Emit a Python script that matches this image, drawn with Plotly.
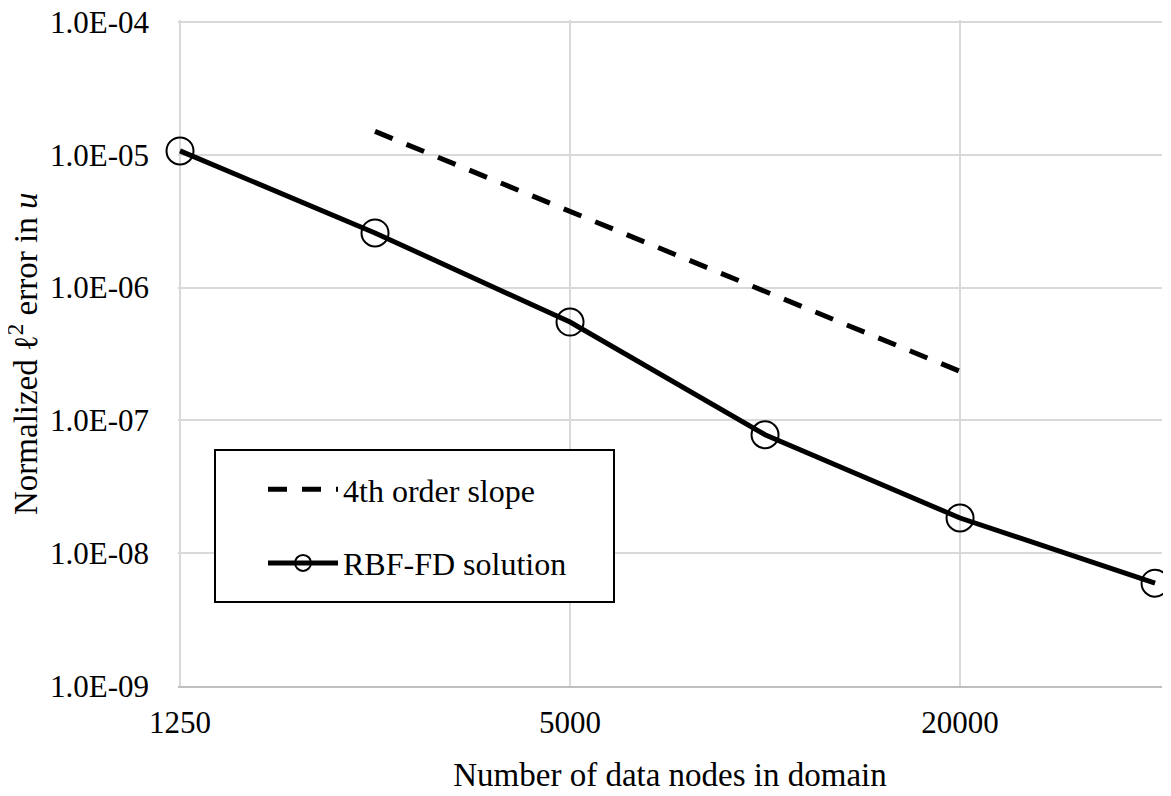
import plotly.graph_objects as go

# ---- data ----
nodes = [1250, 2500, 5000, 10000, 20000, 40000]
rbf_error = [1.07e-5, 2.58e-6, 5.5e-7, 7.8e-8, 1.84e-8, 5.95e-9]

slope_nodes = [2500, 5000, 10000, 20000]
slope_error = [1.5e-5, 3.75e-6, 9.4e-7, 2.34e-7]

x_tickvals = [1250, 5000, 20000]
x_ticktext = ["1250", "5000", "20000"]
y_tickvals = [1e-9, 1e-8, 1e-7, 1e-6, 1e-5, 1e-4]
y_ticktext = ["1.0E-09", "1.0E-08", "1.0E-07", "1.0E-06", "1.0E-05", "1.0E-04"]

FONT = "Liberation Serif, Times New Roman, serif"

# the page body has an 8px margin: work in figure coordinates = page - 8
OFF = 8
FW, FH = 1171 - OFF, 796 - OFF
L, R, T, B = 178 - OFF, 1162 - OFF, 20 - OFF, 686 - OFF
W, H = R - L, B - T


def px(xp):
    return (xp - OFF - L) / W


def py(yp):
    return (B - (yp - OFF)) / H


fig = go.Figure()
fig.add_trace(go.Scatter(
    x=slope_nodes, y=slope_error, mode="lines", name="4th order slope",
    legendgroup="a", cliponaxis=False,
    line=dict(color="black", width=5, dash="19px,15px"),
))
fig.add_trace(go.Scatter(
    x=nodes, y=rbf_error, mode="lines+markers", name="RBF-FD solution",
    legendgroup="b", cliponaxis=False,
    line=dict(color="black", width=5),
    marker=dict(symbol="circle-open", size=27, color="black", line=dict(width=2, color="black")),
))

# legend frame
fig.add_shape(type="rect", xref="paper", yref="paper",
              x0=px(215), x1=px(614), y0=py(602), y1=py(450),
              line=dict(color="black", width=2), fillcolor="white", layer="above")

# y-axis title
fig.add_annotation(text="Normalized ℓ<sup>2</sup> error in <i>u</i>",
                   xref="paper", yref="paper", x=px(23), y=py(354),
                   xanchor="center", yanchor="middle", textangle=-90,
                   showarrow=False, font=dict(family=FONT, size=33, color="black"))

fig.update_layout(
    template="none",
    width=FW, height=FH,
    margin=dict(l=L, r=FW - R, t=T, b=FH - B, autoexpand=False),
    paper_bgcolor="white", plot_bgcolor="white",
    font=dict(family=FONT, size=31, color="black"),
    showlegend=True,
    legend=dict(
        x=px(263), y=py(462),
        xanchor="left", yanchor="top",
        bgcolor="rgba(0,0,0,0)", borderwidth=0,
        font=dict(family=FONT, size=32, color="black"),
        itemwidth=70, tracegroupgap=29,
    ),
    xaxis=dict(
        type="log", automargin=False,
        range=[3.0938, 4.61278],
        tickvals=x_tickvals, ticktext=x_ticktext,
        showgrid=True, gridcolor="#d9d9d9", gridwidth=2,
        showline=True, linecolor="#bfbfbf", linewidth=2,
        ticks="", zeroline=False,
        ticklabelstandoff=8, ticklabeloverflow="allow",
        tickfont=dict(family=FONT, size=31),
        title=dict(text="Number of data nodes in domain", standoff=24,
                   font=dict(family=FONT, size=33)),
    ),
    yaxis=dict(
        type="log", automargin=False,
        range=[-9, -3.985],
        tickvals=y_tickvals, ticktext=y_ticktext,
        showgrid=True, gridcolor="#d9d9d9", gridwidth=2,
        showline=False, ticks="", zeroline=False,
        ticklabelstandoff=28, ticklabeloverflow="allow",
        tickfont=dict(family=FONT, size=31),
    ),
)

fig.write_html("out.html")
